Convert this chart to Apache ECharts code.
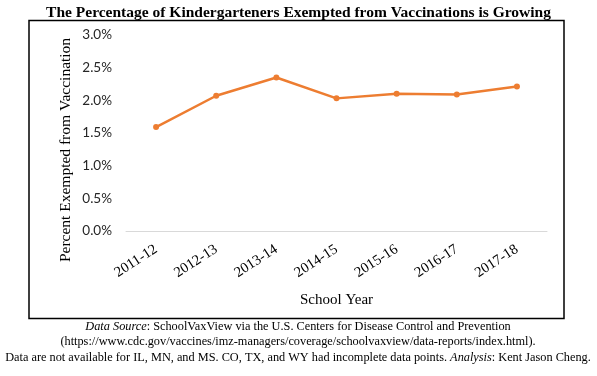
<!DOCTYPE html>
<html>
<head>
<meta charset="utf-8">
<script src="https://cdn.jsdelivr.net/npm/echarts@6/dist/echarts.min.js"></script>
<style>
  html, body { margin: 0; padding: 0; background: #fff; }
  #chart { width: 597px; height: 376px; }
</style>
</head>
<body>
<div id="chart"></div>
<script>
// school years and share of kindergarteners exempted (%)
var years = ["2011-12", "2012-13", "2013-14", "2014-15", "2015-16", "2016-17", "2017-18"];
var exempted = [1.59, 2.07, 2.35, 2.03, 2.10, 2.09, 2.21];

var serif = "'Liberation Serif', 'DejaVu Serif', serif";

var chart = echarts.init(document.getElementById("chart"));
var option = {
  animation: false,
  title: {
    text: "The Percentage of Kindergarteners Exempted from Vaccinations is Growing",
    left: "center",
    top: 0,
    textStyle: { fontFamily: serif, fontWeight: "bold", fontSize: 15.5, color: "#000" }
  },
  graphic: [
    {
      type: "rect",
      shape: { x: 29, y: 20.5, width: 535, height: 298 },
      style: { fill: null, stroke: "#000", lineWidth: 1.5 },
      silent: true
    },
    {
      // y axis title, placed like the original (a bit below the plot centre)
      type: "text",
      x: 66,
      y: 150,
      rotation: Math.PI / 2,
      silent: true,
      style: {
        text: "Percent Exempted from Vaccination",
        fontFamily: serif, fontSize: 15.5, fill: "#000",
        align: "center", verticalAlign: "middle"
      }
    },
    {
      type: "text",
      x: 298,
      y: 319,
      silent: true,
      style: {
        text: "{i|Data Source}: SchoolVaxView via the U.S. Centers for Disease Control and Prevention\n" +
          "(https://www.cdc.gov/vaccines/imz-managers/coverage/schoolvaxview/data-reports/index.html).\n" +
          "Data are not available for IL, MN, and MS. CO, TX, and WY had incomplete data points. {i|Analysis}: Kent Jason Cheng.",
        fontFamily: serif, fontSize: 12.3, fill: "#000", lineHeight: 15.5,
        align: "center", verticalAlign: "top",
        rich: { i: { fontFamily: serif, fontSize: 12.3, fontStyle: "italic", fill: "#000" } }
      }
    }
  ],
  grid: { left: 126, right: 50, top: 35, bottom: 145 },
  xAxis: {
    type: "category",
    data: years,
    boundaryGap: true,
    name: "School Year",
    nameLocation: "middle",
    nameGap: 62,
    nameTextStyle: { fontFamily: serif, fontSize: 15, color: "#000" },
    axisLine: { show: true, lineStyle: { color: "#d9d9d9", width: 1 } },
    axisTick: { show: false },
    axisLabel: { rotate: 33, fontFamily: serif, fontSize: 14.5, color: "#000", margin: 17 }
  },
  yAxis: {
    type: "value",
    min: 0,
    max: 3,
    interval: 0.5,
    axisLine: { show: false },
    axisTick: { show: false },
    splitLine: { show: false },
    axisLabel: {
      fontFamily: "Lato, 'Open Sans', sans-serif",
      fontSize: 13.5,
      color: "#262626",
      margin: 14,
      formatter: function (v) { return v.toFixed(1) + "%"; }
    }
  },
  series: [
    {
      type: "line",
      data: exempted,
      symbol: "circle",
      symbolSize: 6,
      lineStyle: { color: "#ED7D31", width: 2.5 },
      itemStyle: { color: "#ED7D31" }
    }
  ]
};
chart.setOption(option);
</script>
</body>
</html>
